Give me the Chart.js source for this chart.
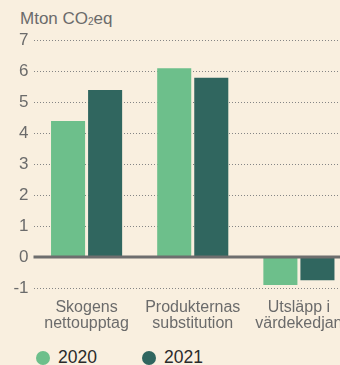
<!DOCTYPE html>
<html>
<head>
<meta charset="utf-8">
<script src="https://cdn.jsdelivr.net/npm/chart.js@4/dist/chart.umd.min.js"></script>
<style>
    html, body {
        margin: 0;
        padding: 0;
        background: #f9efdf;
        overflow: hidden;
        font-family: "Liberation Sans", Arial, sans-serif;
    }
    #wrap {
        position: relative;
        width: 340px;
        height: 365px;
        overflow: hidden;
    }
    #unit {
        position: absolute;
        left: 20px;
        top: 9px;
        font-size: 17px;
        color: #6b6b6b;
    }
    #unit sub {
        font-size: 10px;
        vertical-align: -1px;
    }
    #chartBox {
        position: absolute;
        left: 0;
        top: 0;
        width: 352px;
        height: 345px;
    }
    #legend {
        position: absolute;
        left: 36px;
        top: 347px;
        display: flex;
        font-size: 17.5px;
        color: #2b2b2b;
    }
    .item {
        display: flex;
        align-items: center;
        margin-right: 45px;
    }
    .dot {
        width: 14px;
        height: 14px;
        border-radius: 50%;
        margin-right: 8px;
    }
</style>
</head>
<body>
<div id="wrap">
    <div id="unit">Mton CO<sub>2</sub>eq</div>
    <div id="chartBox"><canvas id="emissionsChart"></canvas></div>
    <div id="legend"></div>
</div>
<script>
const categories = [
    ['Skogens', 'nettoupptag'],
    ['Produkternas', 'substitution'],
    ['Utsläpp i', 'värdekedjan']
];
const years = ['2020', '2021'];
const values2020 = [4.4, 6.1, -0.9];
const values2021 = [5.4, 5.8, -0.75];
const yTicks = [-1, 0, 1, 2, 3, 4, 5, 6, 7];

const colors = ['#6dbf8b', '#30665f'];
const textGray = '#6b6b6b';

// solid zero line drawn over the bars
const zeroLine = {
    id: 'zeroLine',
    afterDatasetsDraw(chart) {
        const y = chart.scales.y.getPixelForValue(0);
        const ctx = chart.ctx;
        ctx.save();
        ctx.strokeStyle = '#6e6e6e';
        ctx.lineWidth = 3;
        ctx.beginPath();
        ctx.moveTo(chart.chartArea.left, y);
        ctx.lineTo(chart.chartArea.right, y);
        ctx.stroke();
        ctx.restore();
    }
};

const ctx = document.getElementById('emissionsChart').getContext('2d');
const emissionsChart = new Chart(ctx, {
    type: 'bar',
    data: {
        labels: categories,
        datasets: [
            { label: years[0], data: values2020, backgroundColor: colors[0] },
            { label: years[1], data: values2021, backgroundColor: colors[1] }
        ]
    },
    options: {
        responsive: true,
        maintainAspectRatio: false,
        animation: false,
        categoryPercentage: 0.698,
        barPercentage: 0.919,
        layout: {
            padding: { top: 40.5, left: 0, right: 0, bottom: 0 }
        },
        plugins: {
            legend: { display: false },
            tooltip: { enabled: false }
        },
        scales: {
            x: {
                grid: { display: false },
                border: { display: false },
                ticks: {
                    color: textGray,
                    padding: 3,
                    maxRotation: 0,
                    font: { family: 'Liberation Sans', size: 16, lineHeight: 1.03 }
                },
                afterFit: (scale) => { scale.height = 57; }
            },
            y: {
                min: -1,
                max: 7,
                afterBuildTicks: (scale) => {
                    scale.ticks = yTicks.map(v => ({ value: v }));
                },
                grid: {
                    color: '#858585',
                    lineWidth: 1,
                    drawTicks: false
                },
                border: { display: false, dash: [1, 2] },
                ticks: {
                    color: textGray,
                    padding: 5,
                    font: { family: 'Liberation Sans', size: 17 }
                },
                afterFit: (scale) => { scale.width = 33.5; }
            }
        }
    },
    plugins: [zeroLine]
});

const legendEl = document.getElementById('legend');
years.forEach((year, i) => {
    const item = document.createElement('div');
    item.className = 'item';
    item.innerHTML = `<span class="dot" style="background:${colors[i]}"></span>${year}`;
    legendEl.appendChild(item);
});
</script>
</body>
</html>
